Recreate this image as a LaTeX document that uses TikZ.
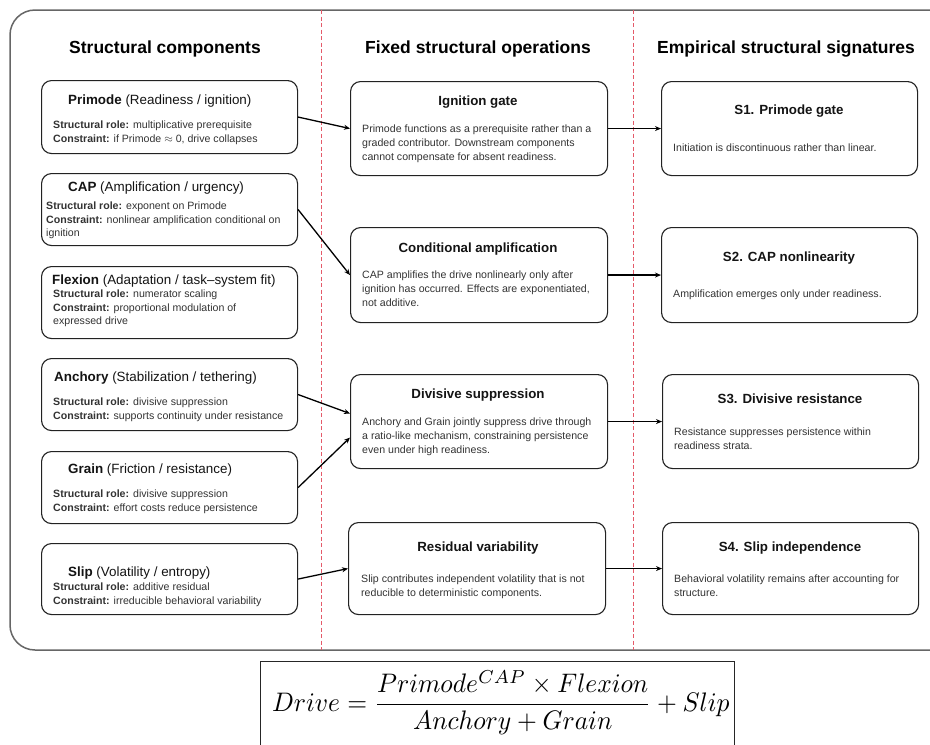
\documentclass[tikz,border=0pt]{standalone}
\usepackage[no-math]{fontspec}
\setmainfont{Liberation Sans}
\usepackage{graphicx}
\usetikzlibrary{arrows.meta,calc}
\definecolor{framegray}{RGB}{102,102,102}
\definecolor{sepred}{RGB}{228,90,105}
\definecolor{boxline}{RGB}{34,34,34}
\definecolor{bodytext}{RGB}{51,51,51}
\begin{document}
\begin{tikzpicture}[x=1pt,y=-1pt,
  cbox/.style={draw=boxline, line width=1.1pt, rounded corners=10pt, anchor=north west, inner sep=0pt},
  hdr/.style={font=\bfseries\fontsize{17.5}{20}\selectfont, anchor=base, inner sep=0pt, text=black},
  ltitle/.style={font=\fontsize{13.4}{16}\selectfont, anchor=base west, inner sep=0pt, text=black!92},
  mtitle/.style={font=\bfseries\fontsize{13.3}{16}\selectfont, anchor=base, inner sep=0pt, text=black!92},
  lbody/.style={font=\fontsize{10.6}{13.5}\selectfont, align=left, anchor=north west, inner sep=0pt, text=bodytext},
  mbody/.style={font=\fontsize{10.6}{14}\selectfont, align=left, anchor=north west, inner sep=0pt, text=bodytext},
  arr/.style={draw=black, line width=1.3pt, -{Stealth[length=6pt,width=5pt]}},
  sepline/.style={draw=sepred, color=sepred, line width=1pt, dash pattern=on 4pt off 2.5pt},
]
\clip (0,0) rectangle (930,745);
\fill[white] (0,0) rectangle (930,745);

% outer frame and column separators
\draw[draw=framegray, line width=1.5pt, rounded corners=25pt] (10,10) rectangle (960,650);
\coordinate (d1t) at (321,10); \coordinate (d1b) at (321,650);
\coordinate (d2t) at (633,10); \coordinate (d2b) at (633,650);
\draw[sepline] (d1t) -- (d1b);
\draw[sepline] (d2t) -- (d2b);

% headers
\node[hdr] (h1) at (165,53) {Structural components};
\node[hdr] (h2) at (478,53) {Fixed structural operations};
\node[hdr] (h3) at (786,53) {Empirical structural signatures};

% left column boxes
\node[cbox, minimum width=256pt, minimum height=73pt] (primode) at (41,80) {};
\node[cbox, minimum width=256pt, minimum height=72pt] (cap) at (41,173) {};
\node[cbox, minimum width=256pt, minimum height=72pt] (flexion) at (41,266) {};
\node[cbox, minimum width=256pt, minimum height=72pt] (anchory) at (41,358) {};
\node[cbox, minimum width=256pt, minimum height=72pt] (grain) at (41,451) {};
\node[cbox, minimum width=256pt, minimum height=71pt] (slip) at (41,543) {};

\node[ltitle] (primodeT) at (68,104) {\textbf{Primode} (Readiness / ignition)};
\node[lbody] (primodeB) at (53,121) {\textbf{Structural role:} multiplicative prerequisite\\\textbf{Constraint:} if Primode $\approx$ 0, drive collapses};

\node[ltitle] (capT) at (68,191) {\textbf{CAP} (Amplification / urgency)};
\node[lbody] (capB) at (46,202) {\textbf{Structural role:} exponent on Primode\\\textbf{Constraint:} nonlinear amplification conditional on\\ignition};

\node[ltitle] (flexionT) at (52,284) {\textbf{Flexion} (Adaptation / task–system fit)};
\node[lbody] (flexionB) at (53,290) {\textbf{Structural role:} numerator scaling\\\textbf{Constraint:} proportional modulation of\\expressed drive};

\node[ltitle] (anchoryT) at (54,381) {\textbf{Anchory} (Stabilization / tethering)};
\node[lbody] (anchoryB) at (53,398) {\textbf{Structural role:} divisive suppression\\\textbf{Constraint:} supports continuity under resistance};

\node[ltitle] (grainT) at (68,473) {\textbf{Grain} (Friction / resistance)};
\node[lbody] (grainB) at (53,490) {\textbf{Structural role:} divisive suppression\\\textbf{Constraint:} effort costs reduce persistence};

\node[ltitle] (slipT) at (68,576) {\textbf{Slip} (Volatility / entropy)};
\node[lbody] (slipB) at (53,583) {\textbf{Structural role:} additive residual\\\textbf{Constraint:} irreducible behavioral variability};

% middle column boxes
\node[cbox, minimum width=257pt, minimum height=94pt] (ign) at (350,81) {};
\node[cbox, minimum width=257pt, minimum height=95pt] (cond) at (350,227) {};
\node[cbox, minimum width=257pt, minimum height=94pt] (div) at (350,374) {};
\node[cbox, minimum width=257pt, minimum height=92pt] (res) at (348,522) {};

\node[mtitle] (ignT) at (478,105) {Ignition gate};
\node[mbody] (ignB) at (362,125) {Primode functions as a prerequisite rather than a\\graded contributor. Downstream components\\cannot compensate for absent readiness.};

\node[mtitle] (condT) at (478,252) {Conditional amplification};
\node[mbody] (condB) at (362,271) {CAP amplifies the drive nonlinearly only after\\ignition has occurred. Effects are exponentiated,\\not additive.};

\node[mtitle] (divT) at (478,398) {Divisive suppression};
\node[mbody] (divB) at (362,418) {Anchory and Grain jointly suppress drive through\\a ratio-like mechanism, constraining persistence\\even under high readiness.};

\node[mtitle] (resT) at (478,551) {Residual variability};
\node[mbody] (resB) at (361,575) {Slip contributes independent volatility that is not\\reducible to deterministic components.};

% right column boxes
\node[cbox, minimum width=256pt, minimum height=94pt] (s1) at (661,81) {};
\node[cbox, minimum width=256pt, minimum height=95pt] (s2) at (661,227) {};
\node[cbox, minimum width=256pt, minimum height=94pt] (s3) at (662,374) {};
\node[cbox, minimum width=256pt, minimum height=92pt] (s4) at (662,522) {};

\node[mtitle] (s1T) at (789,114) {S1. Primode gate};
\node[mbody] (s1B) at (673,144) {Initiation is discontinuous rather than linear.};

\node[mtitle] (s2T) at (789,261) {S2. CAP nonlinearity};
\node[mbody] (s2B) at (673,290) {Amplification emerges only under readiness.};

\node[mtitle] (s3T) at (790,403) {S3. Divisive resistance};
\node[mbody] (s3B) at (674,428) {Resistance suppresses persistence within\\readiness strata.};

\node[mtitle] (s4T) at (790,551) {S4. Slip independence};
\node[mbody] (s4B) at (674,575) {Behavioral volatility remains after accounting for\\structure.};

% connectors left -> middle
\draw[arr] (primode.east) -- (ign.west);
\draw[arr] (cap.east) -- (cond.west);
\draw[arr] (anchory.east) -- ($(div.west)+(0,-8)$);
\draw[arr] (grain.east) -- ($(div.west)+(0,16)$);
\draw[arr] (slip.east) -- (res.west);

% connectors middle -> right
\draw[arr] (ign.east) -- (s1.west);
\draw[arr] (cond.east) -- (s2.west);
\draw[arr] (div.east) -- (s3.west);
\draw[arr] (res.east) -- (s4.west);

% formula
\node[draw=black!85, line width=1pt, anchor=north west, minimum width=474pt, minimum height=110pt, inner sep=0pt] (fbox) at (260,661) {};
\node[anchor=base west, inner sep=0pt] (formula) at (272,711) {\scalebox{2.55}[2.68]{$\displaystyle Drive = \frac{Primode^{CAP}\times Flexion}{Anchory + Grain} + Slip$}};
\end{tikzpicture}
\end{document}
